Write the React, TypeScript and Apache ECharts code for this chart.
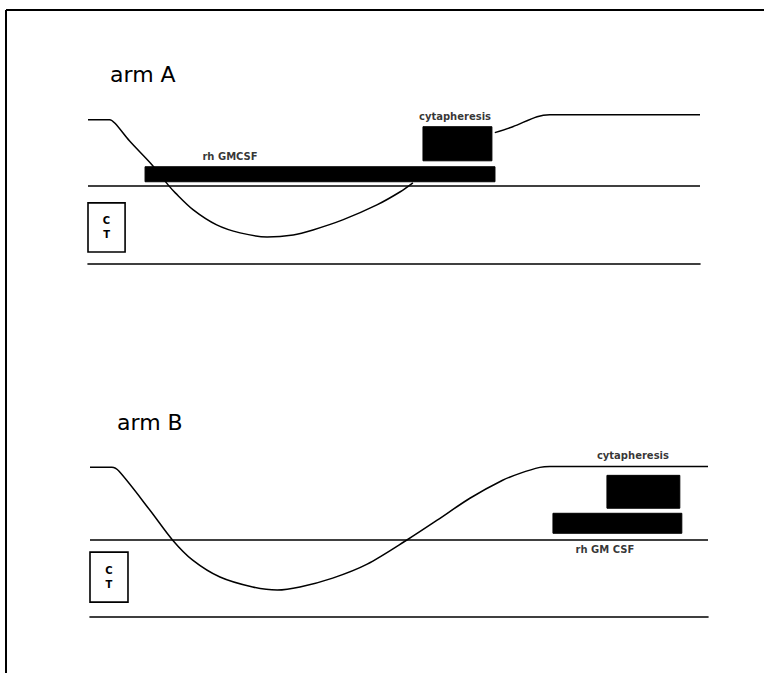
import React, { useEffect, useRef } from "react";
import * as echarts from "echarts";

// x: time (days), y: relative blood-count level (threshold line = 50)
const dayRange = [0, 34];
const levelRange = [0, 110];
const thresholdLevel = 50;

// arm A curve: fall & nadir (hidden behind the treatment bars afterwards), then recovery
const armAFall: [number, number][] = [
  [0, 92.3], [1.2, 92.3], [1.5, 90], [2.3, 78.8], [3.55, 63.5], [4.45, 50.6],
  [4.85, 45.5], [5.85, 34.6], [7.15, 25], [8.45, 19.9], [9.95, 17.3], [11.4, 18.6],
  [12.5, 21.8], [14.15, 28.2], [16.05, 37.8], [17.35, 46.2], [18.05, 51.9],
];
const armARecovery: [number, number][] = [
  [22.6, 84], [23.6, 87.8], [24.95, 94.2], [25.65, 95.5], [34, 95.5],
];
// arm B curve
const armBCurve: [number, number][] = [
  [0, 97.4], [1.2, 97.4], [1.6, 94.8], [3.3, 69.5], [4.55, 50], [5.65, 37],
  [7.15, 26], [8.95, 19.5], [10.3, 17.5], [11.55, 19.5], [13.35, 25.3],
  [15.25, 34.4], [17.5, 50.6], [19.1, 63], [20.9, 77.3], [22.7, 89],
  [23.65, 93.5], [24.75, 97.4], [25.3, 98], [34, 98],
];

// boxes: [dayStart, dayEnd, levelLow, levelHigh]
const armACT = [[0, 2.06, 7.7, 39.1]];
const armATreatments = [
  [3.17, 22.61, 52.6, 62.2], // rh GMCSF
  [18.61, 22.44, 66.0, 87.8], // cytapheresis
];
const armBCT = [[0, 2.09, 9.7, 42.2]];
const armBTreatments = [
  [25.47, 32.56, 54.5, 67.5], // rh GM CSF
  [28.44, 32.45, 70.8, 92.2], // cytapheresis
];

// text labels: [name, day, level]
const armALabels: [string, number, number][] = [
  ["cytapheresis", 20.39, 94.2],
  ["rh GMCSF", 7.89, 68.6],
];
const armBLabels: [string, number, number][] = [
  ["cytapheresis", 29.87, 105.2],
  ["rh GM CSF", 28.33, 44.2],
];
const armTitles = ["arm A", "arm B"];

const FONT = "'DejaVu Sans', Verdana, sans-serif";

function boxRender(kind: "ct" | "fill") {
  return (params: any, api: any) => {
    const x0 = api.value(0), x1 = api.value(1), y0 = api.value(2), y1 = api.value(3);
    const p0 = api.coord([x0, y1]);
    const p1 = api.coord([x1, y0]);
    const shape = { x: p0[0], y: p0[1], width: p1[0] - p0[0], height: p1[1] - p0[1] };
    if (kind === "fill") {
      return { type: "rect", shape, style: { fill: "#000", stroke: "#000", lineWidth: 1 } };
    }
    return {
      type: "rect",
      shape,
      style: { fill: "#fff", stroke: "#000", lineWidth: 1.6 },
      textContent: {
        style: {
          text: "C\nT",
          fill: "#000",
          font: `bold 10px ${FONT}`,
          lineHeight: 14,
          align: "center",
          verticalAlign: "middle",
        },
      },
      textConfig: { position: "inside" },
    };
  };
}

export default function App() {
  const ref = useRef<HTMLDivElement>(null);
  useEffect(() => {
    document.body.style.margin = "0";
    const chart = echarts.init(ref.current!, undefined, { renderer: "svg" });

    const axisX = (gridIndex: number) => ({
      type: "value",
      gridIndex,
      min: dayRange[0],
      max: dayRange[1],
      axisLine: { show: true, onZero: false, lineStyle: { color: "#000", width: 1.6 } },
      axisTick: { show: false },
      axisLabel: { show: false },
      splitLine: { show: false },
    });
    const axisY = (gridIndex: number) => ({
      type: "value",
      gridIndex,
      min: levelRange[0],
      max: levelRange[1],
      show: false,
      splitLine: { show: false },
    });
    const curve = (data: [number, number][], idx: number, withThreshold: boolean) => ({
      type: "line",
      xAxisIndex: idx,
      yAxisIndex: idx,
      data,
      smooth: 0.3,
      symbol: "none",
      lineStyle: { color: "#000", width: 1.5 },
      z: 2,
      markLine: withThreshold
        ? {
            silent: true,
            symbol: "none",
            label: { show: false },
            lineStyle: { color: "#000", width: 1.6, type: "solid" },
            data: [{ yAxis: thresholdLevel }],
          }
        : undefined,
    });
    const boxes = (data: number[][], idx: number, kind: "ct" | "fill") => ({
      type: "custom",
      xAxisIndex: idx,
      yAxisIndex: idx,
      data,
      renderItem: boxRender(kind),
      z: 5,
    });
    const labels = (data: [string, number, number][], idx: number) => ({
      type: "scatter",
      xAxisIndex: idx,
      yAxisIndex: idx,
      clip: false,
      symbolSize: 0,
      data: data.map(([name, d, l]) => ({ name, value: [d, l] })),
      label: {
        show: true,
        position: "inside",
        formatter: "{b}",
        color: "#000",
        fontFamily: FONT,
        fontWeight: "bold",
        fontSize: 10,
      },
      z: 6,
    });

    chart.setOption({
      animation: false,
      backgroundColor: "#fff",
      grid: [
        { left: 88, top: 92, width: 612, height: 172 },
        { left: 90, top: 448, width: 618, height: 169 },
      ],
      xAxis: [axisX(0), axisX(1)],
      yAxis: [axisY(0), axisY(1)],
      series: [
        curve(armAFall, 0, true),
        curve(armARecovery, 0, false),
        boxes(armACT, 0, "ct"),
        boxes(armATreatments, 0, "fill"),
        labels(armALabels, 0),
        curve(armBCurve, 1, true),
        boxes(armBCT, 1, "ct"),
        boxes(armBTreatments, 1, "fill"),
        labels(armBLabels, 1),
      ],
      graphic: [
        { type: "line", shape: { x1: 6, y1: 10, x2: 764, y2: 10 }, style: { stroke: "#000", lineWidth: 2 } },
        { type: "line", shape: { x1: 6, y1: 10, x2: 6, y2: 673 }, style: { stroke: "#000", lineWidth: 2 } },
        {
          type: "text",
          x: 110,
          y: 74,
          style: { text: armTitles[0], fill: "#000", font: `22px ${FONT}`, verticalAlign: "middle" },
        },
        {
          type: "text",
          x: 117,
          y: 422,
          style: { text: armTitles[1], fill: "#000", font: `22px ${FONT}`, verticalAlign: "middle" },
        },
      ],
    });
    return () => chart.dispose();
  }, []);
  return <div ref={ref} style={{ width: 764, height: 673 }} />;
}
